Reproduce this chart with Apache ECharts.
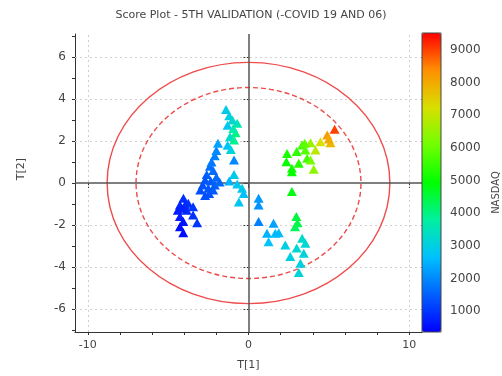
<!DOCTYPE html>
<html><head><meta charset="utf-8">
<script src="https://cdn.jsdelivr.net/npm/echarts@6/dist/echarts.min.js"></script>
<style>html,body{margin:0;padding:0;background:#fff}#c{width:502px;height:376px}</style>
</head><body><div id="c"></div>
<script>
// ---- data ----
const titleText = 'Score Plot - 5TH VALIDATION (-COVID 19 AND 06)';
// [T1, T2, NASDAQ]
const lowerLeftCluster = [
  [-4.05,-0.73,900],[-3.75,-0.97,950],[-4.27,-1.05,800],[-3.45,-1.13,1000],[-4.4,-1.3,700],
  [-3.85,-1.3,850],[-3.45,-1.52,950],[-4.27,-1.6,700],[-4.06,-1.84,600],[-3.2,-1.9,1000],
  [-4.27,-2.08,550],[-4.06,-2.37,500],[-3.95,-1.05,850],[-4.15,-1.2,750]
];
const centerLeftCluster = [
  [-2.6,0.4,1500],[-2.0,0.27,1600],[-2.7,0.14,1400],[-2.35,0.1,1450],[-2.85,-0.1,1350],
  [-2.1,-0.1,1500],[-2.5,-0.25,1400],[-3.0,-0.33,1300],[-2.2,-0.33,1450],[-2.4,0.8,1700],
  [-2.2,0.6,1650],[-2.3,1.0,1800],[-2.1,1.3,1900],[-2.0,1.55,2000],[-1.9,1.9,2300],
  [-2.45,-0.5,1350],[-2.7,-0.6,1300],[-1.8,0.05,1600]
];
const upperArm = [
  [-1.4,3.5,2900],[-1.2,3.2,3000],[-0.7,2.85,3600],[-1.3,2.75,2800],[-0.8,2.4,4000],
  [-1.15,2.2,3300],[-0.9,2.05,3900],[-1.3,1.8,2700],[-1.1,1.6,3100],[-0.9,1.1,2000],
  [-1.0,3.0,3200],[-0.95,2.6,3700]
];
const nearOrigin = [
  [-0.9,0.4,2900],[-0.7,-0.05,2800],[-0.4,-0.25,2900],[-0.3,-0.5,2700],[-0.6,-0.9,2800],[-1.2,0.1,2500]
];
const lowerRight = [
  [0.63,-0.73,2200],[0.63,-1.05,2100],[0.63,-1.84,1900],[1.56,-1.92,2300],[1.15,-2.4,2500],
  [1.67,-2.4,2600],[1.25,-2.8,2700],[1.88,-2.37,2600],[2.29,-2.95,3000],[3.34,-2.63,3300],
  [3.54,-2.87,3200],[3.44,-3.35,3100],[2.6,-3.5,3000],[3.23,-3.82,3000],[3.13,-4.27,3100],
  [3.0,-3.1,3200],[2.7,-0.41,4800],[2.98,-1.6,4500],[2.9,-2.08,4300],[3.05,-1.9,4400]
];
const upperRight = [
  [5.36,2.56,9000],[4.9,2.29,8200],[5.1,1.92,7800],[5.0,2.1,8000],[4.48,1.97,7200],
  [3.86,1.92,6500],[3.34,1.81,5600],[3.54,1.57,5800],[4.17,1.57,6900],[2.4,1.41,5200],
  [3.65,1.18,5600],[3.86,1.1,6100],[2.36,1.01,5000],[3.13,0.94,5300],[2.7,0.7,5100],
  [4.06,0.65,6400],[2.7,0.54,5000],[3.0,1.5,5400],[3.5,1.9,5900]
];
// Hotelling ellipses: [cx, cy, rx, ry, dashed]
const ellipses = [[0,0,8.8,5.75,0],[0,0,7.0,4.55,1]];
const xLabelTicks = [-10,0,10];
const xMinorTicks = [-10,-8,-6,-4,-2,0,2,4,6,8,10];
const yLabelTicks = [-6,-4,-2,0,2,4,6];
const yMinorTicks = [-7,-6,-5,-4,-3,-2,-1,0,1,2,3,4,5,6,7];
const colorTicks = [1000,2000,3000,4000,5000,6000,7000,8000,9000];
const colorMin = 365, colorMax = 9512;
const xRange = [-10.8, 10.8], yRange = [-7.1, 7.1];

const points = [].concat(lowerLeftCluster, centerLeftCluster, upperArm, nearOrigin, lowerRight, upperRight);

const FONT = 'DejaVu Sans';
const TXT = '#444';
const gridMarks = xLabelTicks.filter(v => v !== 0).map(v => ({xAxis: v}))
  .concat(yLabelTicks.filter(v => v !== 0).map(v => ({yAxis: v})));

const chart = echarts.init(document.getElementById('c'), null, {renderer: 'canvas'});
chart.setOption({
  animation: false,
  backgroundColor: '#fff',
  title: {text: titleText, left: 'center', top: 10, padding: 0,
    textStyle: {fontFamily: FONT, fontSize: 11, fontWeight: 'normal', color: TXT}},
  grid: [
    {left: 75, right: 80, top: 34, bottom: 44},
    {left: 422, top: 33, width: 19, height: 299, show: true, borderColor: '#444', borderWidth: 1, backgroundColor: 'transparent', z: 10}
  ],
  xAxis: [
    {type: 'value', gridIndex: 0, min: xRange[0], max: xRange[1],
      name: 'T[1]', nameLocation: 'middle', nameGap: 28,
      nameTextStyle: {fontFamily: FONT, fontSize: 11, color: TXT},
      axisLine: {onZero: false, lineStyle: {color: '#333', width: 1}},
      axisTick: {show: true, length: 3, customValues: xMinorTicks, lineStyle: {color: '#333'}},
      axisLabel: {customValues: xLabelTicks, fontFamily: FONT, fontSize: 11, color: TXT, margin: 8},
      splitLine: {show: false}},
    {type: 'value', gridIndex: 0, min: xRange[0], max: xRange[1], position: 'bottom',
      axisLine: {show: false}, axisLabel: {show: false}, splitLine: {show: false},
      axisTick: {show: true, length: 5, customValues: xLabelTicks, lineStyle: {color: '#333'}}},
    {type: 'value', gridIndex: 1, show: false, min: 0, max: 1}
  ],
  yAxis: [
    {type: 'value', gridIndex: 0, min: yRange[0], max: yRange[1],
      name: 'T[2]', nameLocation: 'middle', nameGap: 48, nameRotate: 90,
      nameTextStyle: {fontFamily: FONT, fontSize: 11, color: TXT, padding: [0, 0, 0, 28]},
      axisLine: {onZero: false, lineStyle: {color: '#333', width: 1}},
      axisTick: {show: true, length: 3, customValues: yMinorTicks, lineStyle: {color: '#333'}},
      axisLabel: {customValues: yLabelTicks, fontFamily: FONT, fontSize: 12, color: TXT, margin: 9},
      splitLine: {show: false}},
    {type: 'value', gridIndex: 0, min: yRange[0], max: yRange[1], position: 'left',
      axisLine: {show: false}, axisLabel: {show: false}, splitLine: {show: false},
      axisTick: {show: true, length: 5, customValues: yLabelTicks, lineStyle: {color: '#333'}}},
    {type: 'value', gridIndex: 1, position: 'right', min: colorMin, max: colorMax,
      name: 'NASDAQ', nameLocation: 'middle', nameGap: 50, nameRotate: 90,
      nameTextStyle: {fontFamily: FONT, fontSize: 10, color: TXT, padding: [0, 20, 0, 0]},
      axisLine: {show: false}, splitLine: {show: false},
      axisTick: {show: true, length: 4, customValues: colorTicks, lineStyle: {color: '#444'}},
      axisLabel: {customValues: colorTicks, fontFamily: FONT, fontSize: 12, color: TXT, margin: 9,
        formatter: v => String(v)}}
  ],
  visualMap: {
    type: 'continuous', min: colorMin, max: colorMax, dimension: 2, seriesIndex: 0,
    left: 422, top: 33, itemWidth: 19, itemHeight: 299, padding: 0,
    calculable: false, text: null, showLabel: false, hoverLink: false,
    inRange: {color: ['#0000ff','#0060ff','#00c0ff','#00f0a0','#00ff00','#70ff00','#d8e000','#ff9000','#ff0000']}
  },
  series: [
    {type: 'scatter', xAxisIndex: 0, yAxisIndex: 0, data: points, symbol: 'triangle', symbolSize: [10, 9], z: 5,
      itemStyle: {opacity: 1}},
    {type: 'custom', xAxisIndex: 0, yAxisIndex: 0, data: ellipses, z: 4, silent: true,
      renderItem: function (params, api) {
        const c = api.coord([api.value(0), api.value(1)]);
        const s = api.size([api.value(2), api.value(3)]);
        const dashed = api.value(4) === 1;
        return {type: 'ellipse', shape: {cx: c[0], cy: c[1], rx: s[0], ry: s[1]},
          style: {fill: 'none', stroke: '#ee4b4b', lineWidth: 1.4, lineDash: dashed ? [5, 3] : null}};
      },
      markLine: {silent: true, symbol: 'none', label: {show: false}, z: 1,
        lineStyle: {color: '#d0d0d0', type: [2, 3], width: 1},
        data: gridMarks}},
    {type: 'line', xAxisIndex: 0, yAxisIndex: 0, data: [], z: 6,
      markLine: {silent: true, symbol: 'none', label: {show: false},
        lineStyle: {color: '#555', type: 'solid', width: 1.5},
        data: [{xAxis: 0}, {yAxis: 0}]}}
  ]
});
</script></body></html>
